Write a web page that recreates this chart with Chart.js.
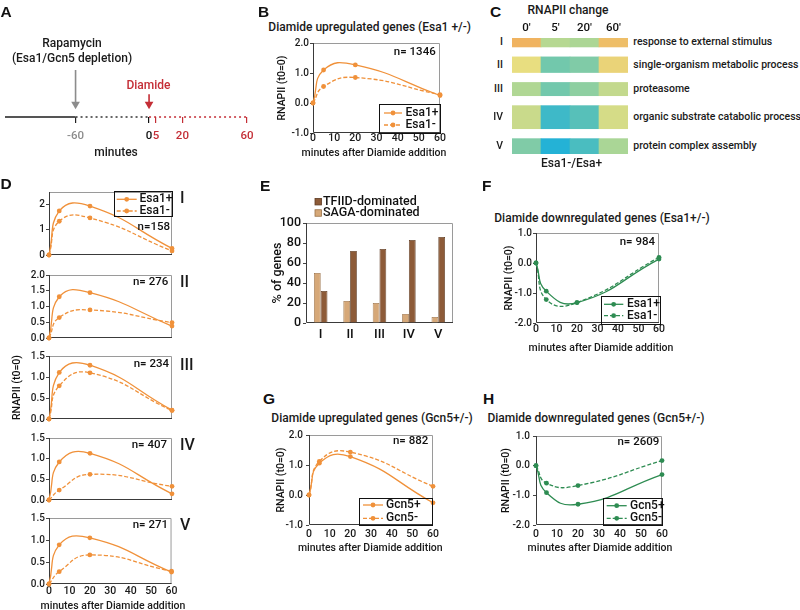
<!DOCTYPE html>
<html><head><meta charset="utf-8">
<script src="https://cdn.jsdelivr.net/npm/chart.js@4.4.1/dist/chart.umd.min.js"></script>
<style>
html,body{margin:0;padding:0;background:#fff;}
body{width:800px;height:610px;position:relative;overflow:hidden;font-family:Roboto,"Noto Sans",sans-serif;color:#1a1a1a;}
canvas{position:absolute;}
.t{position:absolute;white-space:nowrap;line-height:1;font-weight:500;font-size:12px;}
.lt{font-family:"Liberation Sans",Arial,sans-serif;font-weight:bold;font-size:15.5px;color:#111;}
</style></head><body>
<script>
// ---------------- data ----------------
const minutes = [0, 5, 20, 60];
const minuteTicks = [0, 10, 20, 30, 40, 50, 60];
const timelineTicks = [-60, 0, 5, 20, 60];

const bEsa1Plus  = [0, 1.10, 1.27, 0.25];
const bEsa1Minus = [0, 0.55, 0.85, 0.28];

const clusters = ['I', 'II', 'III', 'IV', 'V'];
const clusterN = [158, 276, 234, 407, 271];
const goTerms = ['response to external stimulus', 'single-organism metabolic process', 'proteasome',
                 'organic substrate catabolic process', 'protein complex assembly'];
const heatCols = ["0'", "5'", "20'", "60'"];
const heatI   = [0.90, 0.10, 0.02, 0.80];
const heatII  = [0.50, -0.40, -0.30, 0.60];
const heatIII = [0.05, -0.40, -0.20, 0.20];
const heatIV  = [0.25, -0.80, -0.60, 0.35];
const heatV   = [-0.30, -1.00, -0.70, 0.00];

const dPlusI    = [0, 1.75, 1.94, 0.26];
const dMinusI   = [0, 1.34, 1.47, 0.16];
const dPlusII   = [0, 1.31, 1.44, 0.38];
const dMinusII  = [0, 0.65, 0.89, 0.49];
const dPlusIII  = [0, 1.11, 1.28, 0.21];
const dMinusIII = [0, 0.79, 1.10, 0.20];
const dPlusIV   = [0, 0.92, 1.13, 0.15];
const dMinusIV  = [0, 0.24, 0.62, 0.33];
const dPlusV    = [0, 0.89, 1.05, 0.27];
const dMinusV   = [0, 0.28, 0.66, 0.29];

const sagaPct  = [50, 22, 20, 9, 6];
const tfiidPct = [32, 72, 74, 83, 86];
const pctTicks = [0, 20, 40, 60, 80, 100];

const fEsa1Plus  = [0, -0.94, -1.32, 0.13];
const fEsa1Minus = [0, -1.22, -1.32, 0.19];
const gGcn5Plus  = [0, 1.06, 1.28, -0.26];
const gGcn5Minus = [0, 1.12, 1.43, 0.29];
const hGcn5Plus  = [0, -0.91, -1.30, -0.30];
const hGcn5Minus = [0, -0.59, -0.67, 0.17];

const ticksUp   = [-1, 0, 1, 2];
const ticksDown = [-2, -1, 0, 1];
const ticksDI   = [0, 1, 2];
const ticksD20  = [0, 0.5, 1.0, 1.5, 2.0];
const ticksD15  = [0, 0.5, 1.0, 1.5];

// ---------------- style ----------------
const FONT = 'Roboto, "Noto Sans", sans-serif';
const ORANGE = '#F0913A', GREEN = '#2E8C52', RED = '#C42E36', GRAY = '#8C8C8C';
const XTITLE = 'minutes after Diamide addition';
Chart.defaults.font.family = FONT;
Chart.defaults.color = '#1a1a1a';

function txt(s, x, y, o = {}) {
  const d = document.createElement('div');
  d.className = 't' + (o.cls ? ' ' + o.cls : '');
  d.textContent = s;
  d.style.left = x + 'px'; d.style.top = y + 'px';
  const ax = o.align === 'left' ? '0' : o.align === 'right' ? '-100%' : '-50%';
  d.style.transform = 'translate(' + ax + ',-50%)';
  if (o.size) d.style.fontSize = o.size + 'px';
  if (o.color) d.style.color = o.color;
  if (o.weight) d.style.fontWeight = o.weight;
  document.body.appendChild(d);
  return d;
}

function mkCanvas(ca, m) {
  const L = Math.round(ca.l), T = Math.round(ca.t), R = Math.round(ca.r), B = Math.round(ca.b);
  const c = document.createElement('canvas');
  const left = L - m.left, top = T - m.top;
  c.width = R - L + m.left + m.right; c.height = B - T + m.top + m.bottom;
  c.style.left = left + 'px'; c.style.top = top + 'px';
  c.style.width = c.width + 'px'; c.style.height = c.height + 'px';
  document.body.appendChild(c);
  return {c, left, top};
}

function makeDeco(g, cfg) {
  return {
    id: 'deco',
    beforeDatasetsDraw(chart) {
      if (!cfg.frame) return;
      const {ctx, chartArea: a} = chart;
      ctx.save(); ctx.lineWidth = 1;
      ctx.strokeStyle = '#9a9a9a';
      ctx.beginPath(); ctx.moveTo(a.left, a.top + .5); ctx.lineTo(a.right - .5, a.top + .5); ctx.lineTo(a.right - .5, a.bottom); ctx.stroke();
      ctx.strokeStyle = '#3a3a3a';
      ctx.beginPath(); ctx.moveTo(a.left + .5, a.top); ctx.lineTo(a.left + .5, a.bottom - .5); ctx.lineTo(a.right, a.bottom - .5); ctx.stroke();
      ctx.restore();
    },
    afterDatasetsDraw(chart) {
      const ctx = chart.ctx, ox = g.left, oy = g.top;
      ctx.save();
      if (cfg.note) {
        ctx.font = '500 11.5px ' + FONT; ctx.fillStyle = '#111';
        ctx.textAlign = 'right'; ctx.textBaseline = 'middle';
        ctx.fillText(cfg.note.text, cfg.note.x - ox, cfg.note.y - oy);
      }
      const Lg = cfg.legend;
      if (Lg) {
        if (Lg.box) {
          ctx.strokeStyle = '#111'; ctx.lineWidth = 1;
          ctx.strokeRect(Math.round(Lg.box[0] - ox) + .5, Math.round(Lg.box[1] - oy) + .5, Math.round(Lg.box[2]), Math.round(Lg.box[3]));
        }
        Lg.items.forEach(it => {
          const ds = chart.data.datasets[it.ds];
          const y = it.y - oy;
          if (Lg.square) {
            ctx.fillStyle = ds.backgroundColor; ctx.strokeStyle = ds.borderColor; ctx.lineWidth = 0.8;
            ctx.fillRect(Lg.x0 - ox, y - Lg.sq / 2, Lg.sq, Lg.sq);
            ctx.strokeRect(Lg.x0 - ox, y - Lg.sq / 2, Lg.sq, Lg.sq);
          } else {
            ctx.strokeStyle = ds.borderColor; ctx.lineWidth = ds.borderWidth;
            ctx.setLineDash(ds.borderDash || []);
            ctx.beginPath(); ctx.moveTo(Lg.x0 - ox, y); ctx.lineTo(Lg.x1 - ox, y); ctx.stroke();
            ctx.setLineDash([]);
            ctx.fillStyle = ds.borderColor;
            ctx.beginPath(); ctx.arc((Lg.x0 + Lg.x1) / 2 - ox, y, 2.4, 0, Math.PI * 2); ctx.fill();
          }
          ctx.font = '500 ' + Lg.size + 'px ' + FONT;
          ctx.textAlign = 'left'; ctx.textBaseline = 'middle'; ctx.fillStyle = '#111';
          ctx.fillText(ds.label, Lg.tx - ox, y);
        });
      }
      ctx.restore();
    }
  };
}

function lineChart(cfg) {
  const g = mkCanvas(cfg.ca, cfg.m);
  const datasets = cfg.series.map(s => ({
    label: s.label,
    data: minutes.map((x, i) => ({x, y: s.values[i]})),
    borderColor: s.color, backgroundColor: s.color, pointBackgroundColor: s.color,
    borderWidth: 1.3, borderDash: s.dashed ? [4, 2] : [],
    pointRadius: 2.4, pointBorderWidth: 0, pointHoverRadius: 2.4,
    tension: 0.5, clip: false, fill: false
  }));
  const xShow = !!cfg.xShow;
  const fmt = v => cfg.dec === 0 ? String(v) : Number(v).toFixed(cfg.dec);
  const xScale = {
    type: 'linear', min: 0, max: 60, display: xShow,
    afterBuildTicks: s => { s.ticks = minuteTicks.map(v => ({value: v})); },
    grid: {display: false, drawTicks: false}, border: {display: false},
    ticks: {padding: cfg.xPad ?? 1, autoSkip: false, maxRotation: 0, color: '#1a1a1a',
            font: {size: 10.5, weight: '500', lineHeight: 1}, callback: v => String(v)},
    title: {display: false}
  };
  if (xShow) xScale.afterFit = s => { s.height = cfg.m.bottom; };
  const chart = new Chart(g.c, {
    type: 'line',
    data: {datasets},
    options: {
      responsive: false, animation: false, devicePixelRatio: 1, events: [],
      layout: {padding: {left: 0, top: cfg.m.top, right: cfg.m.right, bottom: xShow ? 0 : cfg.m.bottom}},
      plugins: {legend: {display: false}, tooltip: {enabled: false}},
      scales: {
        x: xScale,
        y: {
          type: 'linear', min: cfg.yMin, max: cfg.yMax,
          afterBuildTicks: s => { s.ticks = cfg.yTicks.map(v => ({value: v})); },
          afterFit: s => { s.width = cfg.m.left; },
          grid: {display: true, drawOnChartArea: false, drawTicks: true, tickLength: 3, color: '#444', lineWidth: 1},
          border: {display: false},
          ticks: {padding: cfg.yPad ?? 1, color: '#1a1a1a', font: {size: 10, weight: '500'}, callback: fmt},
          title: {display: !!cfg.yTitle, text: cfg.yTitle || '', color: '#111',
                  font: {size: 10.5, weight: '500', lineHeight: 1.2}, padding: {top: cfg.yTitlePad ?? 0, bottom: 0}}
        }
      }
    },
    plugins: [makeDeco(g, cfg)]
  });
  if (cfg.xTitle) txt(XTITLE, cfg.xTitle[0], cfg.xTitle[1], {size: 10.5});
  return chart;
}

// ---------------- Panel A (schematic timeline) ----------------
const LinearScale = Chart.LinearScale || Chart.registry.getScale('linear');
const timelineBreaks = [[-115, 0], [-60, 0.288], [0, 0.588], [5, 0.616], [20, 0.724], [60, 0.988], [62, 1]];
class SchematicScale extends LinearScale {
  getPixelForValue(value) {
    const br = timelineBreaks;
    let i = 0;
    while (i < br.length - 2 && value > br[i + 1][0]) i++;
    const [v0, f0] = br[i], [v1, f1] = br[i + 1];
    const f = f0 + (value - v0) / (v1 - v0) * (f1 - f0);
    return this.left + f * this.width;
  }
  getValueForPixel(pixel) {
    const br = timelineBreaks, f = (pixel - this.left) / this.width;
    let i = 0;
    while (i < br.length - 2 && f > br[i + 1][1]) i++;
    const [v0, f0] = br[i], [v1, f1] = br[i + 1];
    return v0 + (f - f0) / (f1 - f0) * (v1 - v0);
  }
}
SchematicScale.id = 'schematic';
SchematicScale.defaults = {};
Chart.register(SchematicScale);

(function () {
  const ca = {l: 0, t: 40, r: 250, b: 117};
  const m = {left: 0, top: 0, right: 12, bottom: 33};
  const g = mkCanvas(ca, m);
  const col = v => v < 0 ? GRAY : (v === 0 ? '#111' : RED);
  const tickCol = v => v < 0 ? '#222' : (v === 0 ? '#111' : RED);
  new Chart(g.c, {
    type: 'line',
    data: {datasets: [
      {data: [{x: -115, y: 0}, {x: -60, y: 0}], borderColor: '#555', borderWidth: 2, pointRadius: 0, clip: false},
      {data: [{x: -60, y: 0}, {x: 0, y: 0}], borderColor: '#333', borderWidth: 1.4, borderDash: [2, 3], pointRadius: 0, clip: false},
      {data: [{x: 0, y: 0}, {x: 60, y: 0}], borderColor: RED, borderWidth: 1.4, borderDash: [2, 3], pointRadius: 0, clip: false},
      {data: [{x: -60, y: 0.653}, {x: -60, y: 0.178}], borderColor: GRAY, backgroundColor: GRAY, pointBackgroundColor: GRAY,
       borderWidth: 1.6, pointRadius: [0, 5], pointStyle: 'triangle', rotation: 180, pointBorderWidth: 0, clip: false},
      {data: [{x: 0, y: 0.316}, {x: 0, y: 0.178}], borderColor: RED, backgroundColor: RED, pointBackgroundColor: RED,
       borderWidth: 1.6, pointRadius: [0, 5], pointStyle: 'triangle', rotation: 180, pointBorderWidth: 0, clip: false}
    ]},
    options: {
      responsive: false, animation: false, devicePixelRatio: 1, events: [],
      layout: {padding: {left: 0, top: 0, right: m.right, bottom: 0}},
      plugins: {legend: {display: false}, tooltip: {enabled: false}},
      scales: {
        x: {type: 'schematic', min: -115, max: 62,
            afterBuildTicks: s => { s.ticks = timelineTicks.map(v => ({value: v})); },
            afterFit: s => { s.height = m.bottom; },
            grid: {display: true, drawOnChartArea: false, drawTicks: true, tickLength: 6, lineWidth: 1.2,
                   color: c => tickCol(c.tick ? c.tick.value : 0)},
            border: {display: false},
            ticks: {padding: 6.5, autoSkip: false, maxRotation: 0, font: {size: 11.5, weight: '500'},
                    color: c => col(c.tick ? c.tick.value : 0), callback: v => String(v)}},
        y: {display: false, min: 0, max: 1}
      }
    }
  });
  txt('Rapamycin', 72, 43);
  txt('(Esa1/Gcn5 depletion)', 72, 57.5);
  txt('Diamide', 148.5, 84.5, {color: RED});
  txt('minutes', 116, 152);
})();

// ---------------- Panel B ----------------
lineChart({
  ca: {l: 313, t: 43, r: 440, b: 133}, m: {left: 40, top: 8, right: 10, bottom: 27},
  yMin: -1, yMax: 2, yTicks: ticksUp, dec: 1, xShow: true, xPad: 0, xTitle: [374, 152.6],
  yTitle: 'RNAPII (t0=0)', yTitlePad: 3.4, frame: true,
  series: [{label: 'Esa1+', values: bEsa1Plus, color: ORANGE}, {label: 'Esa1-', values: bEsa1Minus, color: ORANGE, dashed: true}],
  legend: {box: [379, 104, 61, 29], items: [{ds: 0, y: 113}, {ds: 1, y: 125}], x0: 384, x1: 402, tx: 405.5, size: 12},
  note: {text: 'n= 1346', x: 435.7, y: 52}
});
txt('Diamide upregulated genes (Esa1 +/-)', 369.7, 26.7);

// ---------------- Panel C (heatmap) ----------------
const heatStops = [[-1, [36, 178, 214]], [-0.5, [100, 196, 178]], [0, [170, 214, 150]], [0.5, [232, 222, 128]], [1, [242, 168, 88]]];
function heatColor(v) {
  let i = 0;
  while (i < heatStops.length - 2 && v > heatStops[i + 1][0]) i++;
  const [a, ca] = heatStops[i], [b, cb] = heatStops[i + 1];
  const f = Math.max(0, Math.min(1, (v - a) / (b - a)));
  const c = ca.map((x, k) => Math.round(x + (cb[k] - x) * f));
  return 'rgb(' + c.join(',') + ')';
}
(function () {
  const ca = {l: 512, t: 38, r: 628, b: 154};
  const m = {left: 0, top: 20, right: 0, bottom: 0};
  const g = mkCanvas(ca, m);
  const gap = 175;
  const rows = [heatI, heatII, heatIII, heatIV, heatV];
  let y0 = 0;
  const spans = [];
  const datasets = rows.map((vals, i) => {
    const start = y0; y0 += clusterN[i] + gap;
    spans.push([start, start + clusterN[i]]);
    return {label: clusters[i], data: vals.map(() => [start, start + clusterN[i]]),
            backgroundColor: vals.map(heatColor), borderWidth: 0,
            barPercentage: 1, categoryPercentage: 1, grouped: false};
  });
  const total = y0 - gap;
  const chart = new Chart(g.c, {
    type: 'bar',
    data: {labels: heatCols, datasets},
    options: {
      responsive: false, animation: false, devicePixelRatio: 1, events: [],
      layout: {padding: 0},
      plugins: {legend: {display: false}, tooltip: {enabled: false}},
      scales: {
        x: {position: 'top', afterFit: s => { s.height = m.top; },
            grid: {display: false, drawTicks: false}, border: {display: false},
            ticks: {padding: 3, font: {size: 11.5, weight: '500'}, color: '#111'}},
        y: {display: false, min: 0, max: total, reverse: true}
      }
    }
  });
  const ys = chart.scales.y;
  spans.forEach((sp, i) => {
    const yc = g.top + ys.getPixelForValue((sp[0] + sp[1]) / 2);
    txt(clusters[i], 503, yc, {align: 'right', size: 10.5});
    txt(goTerms[i], 633.3, yc, {align: 'left', size: 10.5});
  });
  txt('RNAPII change', 568, 10);
  txt('Esa1-/Esa+', 571.5, 163.3, {size: 12});
})();

// ---------------- Panel D ----------------
const dL = 49, dR = 172;
const dM = {left: 40, top: 6, right: 8, bottom: 4};
lineChart({
  ca: {l: dL, t: 190.7, r: dR, b: 257.7}, m: dM, yMin: 0, yMax: 2.5, yTicks: ticksDI, dec: 0, frame: true,
  series: [{label: 'Esa1+', values: dPlusI, color: ORANGE}, {label: 'Esa1-', values: dMinusI, color: ORANGE, dashed: true}],
  legend: {box: [114, 190.7, 58, 25], items: [{ds: 0, y: 199.3}, {ds: 1, y: 211}], x0: 116.7, x1: 136.7, tx: 139.5, size: 12},
  note: {text: 'n=158', x: 170, y: 226.7}
});
lineChart({
  ca: {l: dL, t: 273.7, r: dR, b: 341}, m: dM, yMin: 0, yMax: 2, yTicks: ticksD20, dec: 1, frame: true,
  series: [{label: 'Esa1+', values: dPlusII, color: ORANGE}, {label: 'Esa1-', values: dMinusII, color: ORANGE, dashed: true}],
  note: {text: 'n= 276', x: 168.3, y: 282.3}
});
lineChart({
  ca: {l: dL, t: 355, r: dR, b: 422.3}, m: dM, yMin: 0, yMax: 1.5, yTicks: ticksD15, dec: 1, frame: true,
  yTitle: 'RNAPII (t0=0)', yTitlePad: 1.7,
  series: [{label: 'Esa1+', values: dPlusIII, color: ORANGE}, {label: 'Esa1-', values: dMinusIII, color: ORANGE, dashed: true}],
  note: {text: 'n= 234', x: 169, y: 364.5}
});
lineChart({
  ca: {l: dL, t: 436.7, r: dR, b: 503.3}, m: dM, yMin: 0, yMax: 1.5, yTicks: ticksD15, dec: 1, frame: true,
  series: [{label: 'Esa1+', values: dPlusIV, color: ORANGE}, {label: 'Esa1-', values: dMinusIV, color: ORANGE, dashed: true}],
  note: {text: 'n= 407', x: 167, y: 445}
});
lineChart({
  ca: {l: dL, t: 517, r: dR, b: 584}, m: {left: 40, top: 6, right: 8, bottom: 20},
  yMin: 0, yMax: 1.5, yTicks: ticksD15, dec: 1, frame: true, xShow: true, xPad: 2.5, xTitle: [113, 605.5],
  series: [{label: 'Esa1+', values: dPlusV, color: ORANGE}, {label: 'Esa1-', values: dMinusV, color: ORANGE, dashed: true}],
  note: {text: 'n= 271', x: 168, y: 525}
});
[198, 282, 365, 445, 525].forEach((y, i) => txt(clusters[i], 180, y, {align: 'left', size: 16}));

// ---------------- Panel E ----------------
(function () {
  const ca = {l: 306, t: 223.3, r: 453, b: 323.3};
  const m = {left: 36, top: 30, right: 8, bottom: 22};
  const g = mkCanvas(ca, m);
  const cfg = {
    frame: true,
    legend: {square: true, sq: 6.5, x0: 315, tx: 323, size: 12.5, items: [{ds: 1, y: 201.7}, {ds: 0, y: 213}]}
  };
  new Chart(g.c, {
    type: 'bar',
    data: {labels: clusters, datasets: [
      {label: 'SAGA-dominated', data: sagaPct, backgroundColor: '#D6A878', borderColor: '#9A7248', borderWidth: 0.8,
       barPercentage: 1, categoryPercentage: 0.46},
      {label: 'TFIID-dominated', data: tfiidPct, backgroundColor: '#8D5B38', borderColor: '#5E3B22', borderWidth: 0.8,
       barPercentage: 1, categoryPercentage: 0.46}
    ]},
    options: {
      responsive: false, animation: false, devicePixelRatio: 1, events: [],
      layout: {padding: {left: 0, top: m.top, right: m.right, bottom: 0}},
      plugins: {legend: {display: false}, tooltip: {enabled: false}},
      scales: {
        x: {afterFit: s => { s.height = m.bottom; },
            grid: {display: false, drawTicks: false}, border: {display: false},
            ticks: {padding: 4, font: {size: 13, weight: '500'}, color: '#111'}},
        y: {min: 0, max: 100,
            afterBuildTicks: s => { s.ticks = pctTicks.map(v => ({value: v})); },
            afterFit: s => { s.width = m.left; },
            grid: {display: true, drawOnChartArea: false, drawTicks: true, tickLength: 3, color: '#444'},
            border: {display: false},
            ticks: {padding: 2, font: {size: 12.5, weight: '500'}, color: '#111', callback: v => String(v)},
            title: {display: true, text: '% of genes', color: '#111', font: {size: 12.5, weight: '500', lineHeight: 1.2},
                    padding: {top: 0, bottom: 0}}}
      }
    },
    plugins: [makeDeco(g, cfg)]
  });
})();

// ---------------- Panel F ----------------
lineChart({
  ca: {l: 536, t: 232.7, r: 659.3, b: 323.3}, m: {left: 36, top: 8, right: 10, bottom: 24},
  yMin: -2, yMax: 1, yTicks: ticksDown, dec: 1, xShow: true, xPad: 1.5, xTitle: [601, 348.3], yPad: 1,
  yTitle: 'RNAPII (t0=0)', yTitlePad: 2.7, frame: true,
  series: [{label: 'Esa1+', values: fEsa1Plus, color: GREEN}, {label: 'Esa1-', values: fEsa1Minus, color: GREEN, dashed: true}],
  legend: {box: [600.7, 295.7, 58.6, 27.6], items: [{ds: 0, y: 304.3}, {ds: 1, y: 315.7}], x0: 604, x1: 623.3, tx: 627, size: 12},
  note: {text: 'n= 984', x: 655, y: 241.7}
});
txt('Diamide downregulated genes (Esa1+/-)', 602, 218.3);

// ---------------- Panel G ----------------
lineChart({
  ca: {l: 309.3, t: 434.3, r: 432.7, b: 525}, m: {left: 36, top: 8, right: 10, bottom: 22},
  yMin: -1, yMax: 2, yTicks: ticksUp, dec: 1, xShow: true, xPad: 3.7, xTitle: [370.3, 548], yPad: 3,
  yTitle: 'RNAPII (t0=0)', yTitlePad: 2.4, frame: true,
  series: [{label: 'Gcn5+', values: gGcn5Plus, color: ORANGE}, {label: 'Gcn5-', values: gGcn5Minus, color: ORANGE, dashed: true}],
  legend: {box: [359.3, 498.3, 73.4, 26.7], items: [{ds: 0, y: 505}, {ds: 1, y: 518.3}], x0: 363, x1: 383, tx: 386, size: 12},
  note: {text: 'n= 882', x: 428.3, y: 441}
});
txt('Diamide upregulated genes (Gcn5+/-)', 372, 417.7);

// ---------------- Panel H ----------------
lineChart({
  ca: {l: 536, t: 435, r: 662.3, b: 525}, m: {left: 36, top: 8, right: 10, bottom: 22},
  yMin: -2, yMax: 1, yTicks: ticksDown, dec: 1, xShow: true, xPad: 3.7, xTitle: [600, 548], yPad: 3,
  yTitle: 'RNAPII (t0=0)', yTitlePad: 0, frame: true,
  series: [{label: 'Gcn5+', values: hGcn5Plus, color: GREEN}, {label: 'Gcn5-', values: hGcn5Minus, color: GREEN, dashed: true}],
  legend: {box: [603.3, 498.3, 59, 26.7], items: [{ds: 0, y: 505.7}, {ds: 1, y: 518.3}], x0: 606.7, x1: 626.7, tx: 630, size: 12},
  note: {text: 'n= 2609', x: 659.3, y: 442.3}
});
txt('Diamide downregulated genes (Gcn5+/-)', 596, 417.7);

// ---------------- Panel letters ----------------
[['A', 0.5, 12], ['B', 258, 12], ['C', 490, 12], ['D', 0.5, 183.5], ['E', 260, 186],
 ['F', 482, 186], ['G', 263, 399], ['H', 483, 399]].forEach(([s, x, y]) => txt(s, x, y, {align: 'left', cls: 'lt'}));
</script>
</body></html>
